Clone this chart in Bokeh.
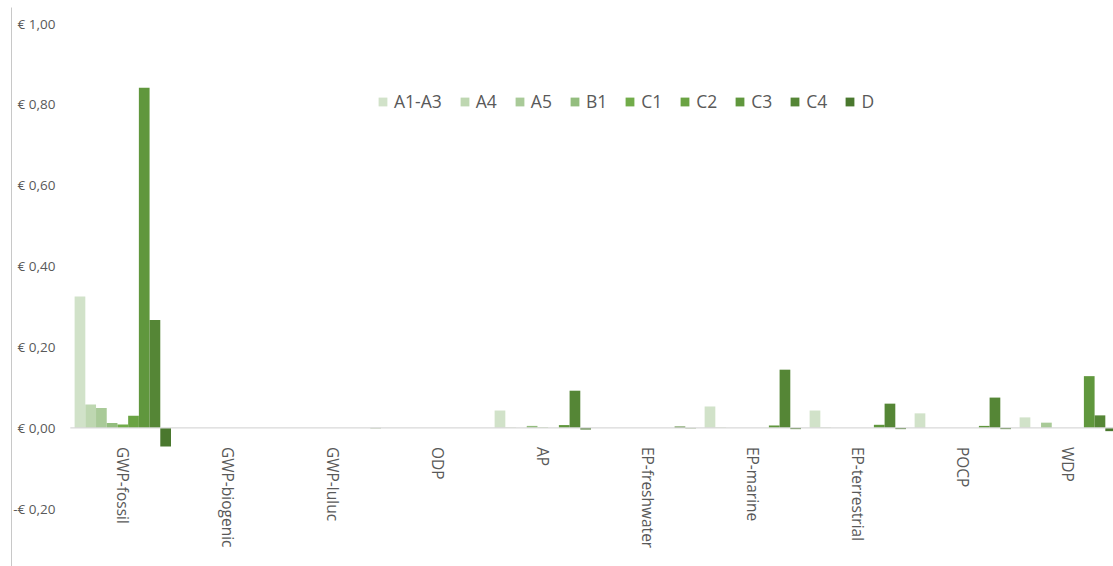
import math
import numpy as np
from bokeh.plotting import figure
from bokeh.models import Range1d, FixedTicker, CustomJSTickFormatter
from bokeh.embed import file_html
from bokeh.resources import INLINE

# Impact categories (x axis)
categories = ["GWP-fossil", "GWP-biogenic", "GWP-luluc", "ODP", "AP",
              "EP-freshwater", "EP-marine", "EP-terrestrial", "POCP", "WDP"]

# Life-cycle modules (series), cost in € per category
modules = ["A1-A3", "A4", "A5", "B1", "C1", "C2", "C3", "C4", "D"]

a1_a3 = [0.325, 0.0, 0.0, 0.0, 0.043, 0.0, 0.053, 0.043, 0.036, 0.026]
a4    = [0.058, 0.0, 0.0, 0.0, 0.001, 0.0, 0.001, 0.001, 0.0, 0.0]
a5    = [0.049, 0.0, 0.0, 0.0, 0.0, 0.0, 0.0, 0.0, 0.0, 0.013]
b1    = [0.012, 0.0, 0.0, 0.0, 0.005, 0.0, 0.0, 0.0, 0.0, 0.0]
c1    = [0.0085, 0.0, 0.0, 0.0, 0.001, 0.0, 0.0, 0.0, 0.0, 0.0]
c2    = [0.030, 0.0, 0.0, 0.0, 0.0, 0.0, 0.0, 0.0, 0.0, 0.0]
c3    = [0.841, 0.0, 0.0, 0.0, 0.007, 0.0, 0.006, 0.0077, 0.005, 0.128]
c4    = [0.267, 0.0, 0.0, 0.0, 0.092, 0.0035, 0.144, 0.060, 0.075, 0.031]
d     = [-0.046, 0.0, -0.0008, 0.0, -0.004, -0.001, -0.003, -0.003, -0.003, -0.008]

series = [a1_a3, a4, a5, b1, c1, c2, c3, c4, d]

colors = ["#d1e2c9", "#bed7b1", "#a9ca98", "#93bd7e", "#72ac4a",
          "#6aa343", "#60973d", "#558636", "#4a782e"]

y_ticks = [-0.2, 0.0, 0.2, 0.4, 0.6, 0.8, 1.0]

text_color = "#595959"
font = "Open Sans"

p = figure(width=1113, height=566, output_backend="svg", toolbar_location=None,
           x_range=Range1d(-1.06, 9.435), y_range=Range1d(-0.3427, 1.0396),
           min_border_left=11, min_border_top=7, min_border_right=0,
           min_border_bottom=0)
p.outline_line_color = None
p.grid.visible = False
p.background_fill_color = "white"
p.border_fill_color = "white"

# clustered bars: nine modules side by side within each category slot
bar_w = 0.102
xs = np.arange(len(categories))
for j, (name, vals, col) in enumerate(zip(modules, series, colors)):
    offset = (j - (len(modules) - 1) / 2) * bar_w
    p.vbar(x=xs + offset, top=vals, bottom=0, width=bar_w,
           fill_color=col, line_color=None, legend_label=name)

# zero baseline across the category area
p.segment(x0=[-0.5], y0=[0], x1=[len(categories) - 0.5], y1=[0],
          line_color="#d9d9d9", line_width=1.2)

# y axis: euro values, labels drawn just right of the axis line
p.yaxis.ticker = FixedTicker(ticks=y_ticks)
p.yaxis.formatter = CustomJSTickFormatter(code="""
    const s = Math.abs(tick).toFixed(2).replace('.', ',');
    return (tick < -1e-9 ? '-€ ' : '€ ') + s;
""")
p.yaxis.axis_line_color = "#c8c8c8"
p.yaxis.major_tick_line_color = None
p.yaxis.minor_tick_line_color = None
p.yaxis.major_label_standoff = -50
p.yaxis.major_label_text_font = font
p.yaxis.major_label_text_font_size = "13.5px"
p.yaxis.major_label_text_color = text_color

# x axis: category names hanging vertically under the zero line
p.xaxis.ticker = FixedTicker(ticks=list(range(len(categories))))
p.xaxis.major_label_overrides = {i: c for i, c in enumerate(categories)}
p.xaxis.fixed_location = 0
p.xaxis.axis_line_color = None
p.xaxis.major_tick_line_color = None
p.xaxis.minor_tick_line_color = None
p.xaxis.major_label_orientation = -math.pi / 2
p.xaxis.major_label_standoff = 13
p.xaxis.major_label_text_font = font
p.xaxis.major_label_text_font_size = "15.5px"
p.xaxis.major_label_text_color = text_color

# legend in a single row near the top
lg = p.legend[0]
lg.orientation = "horizontal"
lg.location = (366, 453)
lg.border_line_color = None
lg.background_fill_alpha = 0
lg.padding = 0
lg.margin = 0
lg.spacing = 17
lg.glyph_width = 11
lg.glyph_height = 11
lg.label_standoff = 6
lg.label_text_font = font
lg.label_text_font_size = "17.5px"
lg.label_text_color = text_color

open("out.html", "w").write(file_html(p, INLINE))
